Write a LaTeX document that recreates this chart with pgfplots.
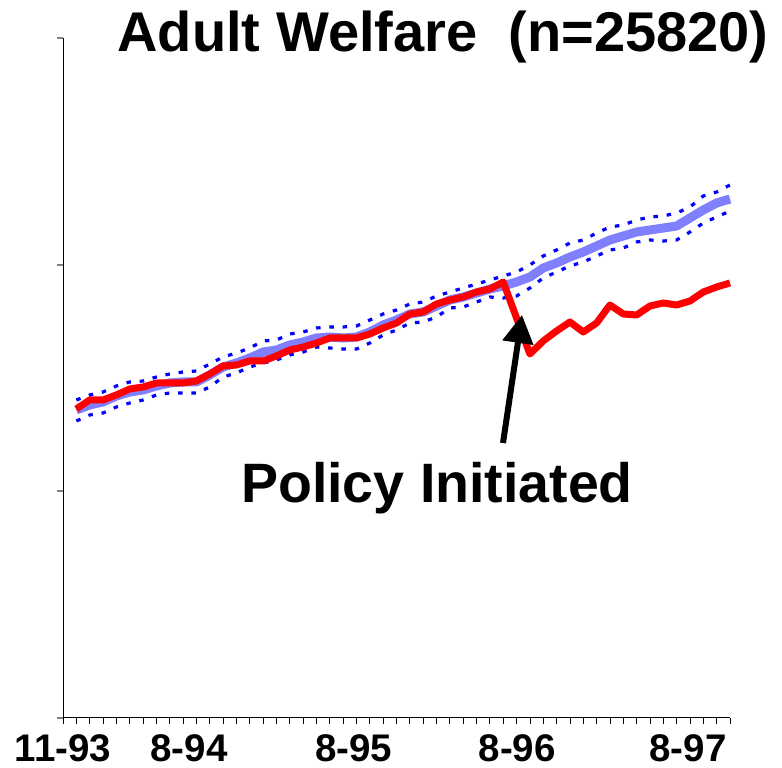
\documentclass[border=0pt]{standalone}
\usepackage{fontspec}
\setmainfont{Liberation Sans}
\usepackage{pgfplots}
\pgfplotsset{compat=1.18}
\usetikzlibrary{arrows.meta}
\definecolor{lightblue}{RGB}{128,128,255}
\definecolor{bandblue}{RGB}{0,0,255}
\begin{document}
\begin{tikzpicture}[x=1pt,y=1pt]
\useasboundingbox (0,0) rectangle (782,768);
\begin{axis}[
  at={(63pt,50pt)}, anchor=south west,
  width=667pt, height=680pt, scale only axis,
  xmin=0, xmax=50, ymin=0, ymax=680,
  axis x line*=bottom, axis y line*=left,
  axis line style={line width=1pt, -},
  xtick={0,9.45,21.8,34.05,46.85},
  xticklabels={11-93,8-94,8-95,8-96,8-97},
  major x tick style={draw=none},
  minor xtick={0,1,...,50},
  minor x tick style={black, line width=0.8pt},
  minor tick length=6pt,
  ytick={0,227,453,680}, yticklabels={},
  y tick style={gray, line width=1.2pt},
  major tick length=6pt,
  tick align=outside,
  xticklabel style={font=\fontsize{38.5}{42}\selectfont\bfseries, inner sep=0pt, anchor=north, yshift=-10pt},
  clip=false,
]
% lower band
\addplot[bandblue, line width=3.2pt, dash pattern=on 4.5pt off 8.8pt] coordinates {
(1,297)(2,303)(3,305)(4,311)(5,315)(6,318)(7,323)(8,325)(9,325)(10,325)
(11,331)(12,341)(13,345)(14,351)(15,355)(16,358)(17,363)(18,366)(19,371)(20,370)
(21,369)(22,369)(23,375)(24,383)(25,388)(26,395)(27,396)(28,401)(29,410)(30,411)
(31,416)(32,421)(33,420)(34,422)(35,430)(36,440)(37,446)(38,452)(39,456)(40,462)
(41,468)(42,470)(43,476)(44,478)(45,477)(46,478)(47,486)(48,495)(49,501)(50,507)};
% upper band
\addplot[bandblue, line width=3.2pt, dash pattern=on 4.5pt off 8.8pt] coordinates {
(1,318)(2,323)(3,326)(4,332)(5,336)(6,337)(7,341)(8,344)(9,346)(10,347)
(11,354)(12,361)(13,365)(14,370)(15,377)(16,378)(17,384)(18,386)(19,390)(20,391)
(21,391)(22,392)(23,398)(24,404)(25,408)(26,414)(27,416)(28,422)(29,426)(30,430)
(31,434)(32,438)(33,442)(34,446)(35,453)(36,462)(37,468)(38,475)(39,478)(40,485)
(41,491)(42,493)(43,498)(44,501)(45,502)(46,505)(47,511)(48,522)(49,526)(50,533)};
% expected (light blue)
\addplot[lightblue, line width=9pt] coordinates {
(1,308)(2,313)(3,316)(4,322)(5,326)(6,328)(7,332)(8,335)(9,336)(10,336)
(11,343)(12,351)(13,355)(14,360)(15,366)(16,368)(17,373)(18,376)(19,380)(20,381)
(21,380)(22,381)(23,386)(24,393)(25,398)(26,404)(27,406)(28,412)(29,418)(30,421)
(31,425)(32,429)(33,432)(34,436)(35,441)(36,450)(37,455)(38,461)(39,466)(40,472)
(41,478)(42,482)(43,486)(44,488)(45,490)(46,492)(47,500)(48,508)(49,515)(50,519)};
% actual (red)
\addplot[red, line width=7pt, line join=round] coordinates {
(1,309)(2,318)(3,318)(4,323)(5,329)(6,331)(7,335)(8,335)(9,335)(10,337)
(11,344)(12,352)(13,353)(14,357)(15,357)(16,362)(17,368)(18,371)(19,375)(20,380)
(21,380)(22,380)(23,384)(24,390)(25,395)(26,404)(27,406)(28,414)(29,418)(30,421)
(31,426)(32,429)(33,436)(34,400)(35,364)(36,377)(37,387)(38,396)(39,386)(40,395)
(41,413)(42,404)(43,403)(44,412)(45,415)(46,413)(47,417)(48,426)(49,431)(50,435)};
\end{axis}
\node[anchor=base, font=\fontsize{56}{62}\selectfont\bfseries] at (443,716) {Adult Welfare\ \ (n=25820)};
\node[anchor=base, font=\fontsize{55.5}{60}\selectfont\bfseries] at (437,265) {Policy Initiated};
\draw[line width=6pt, -{Triangle[length=28pt,width=30pt]}] (503,325) -- (522,453);
\end{tikzpicture}
\end{document}
